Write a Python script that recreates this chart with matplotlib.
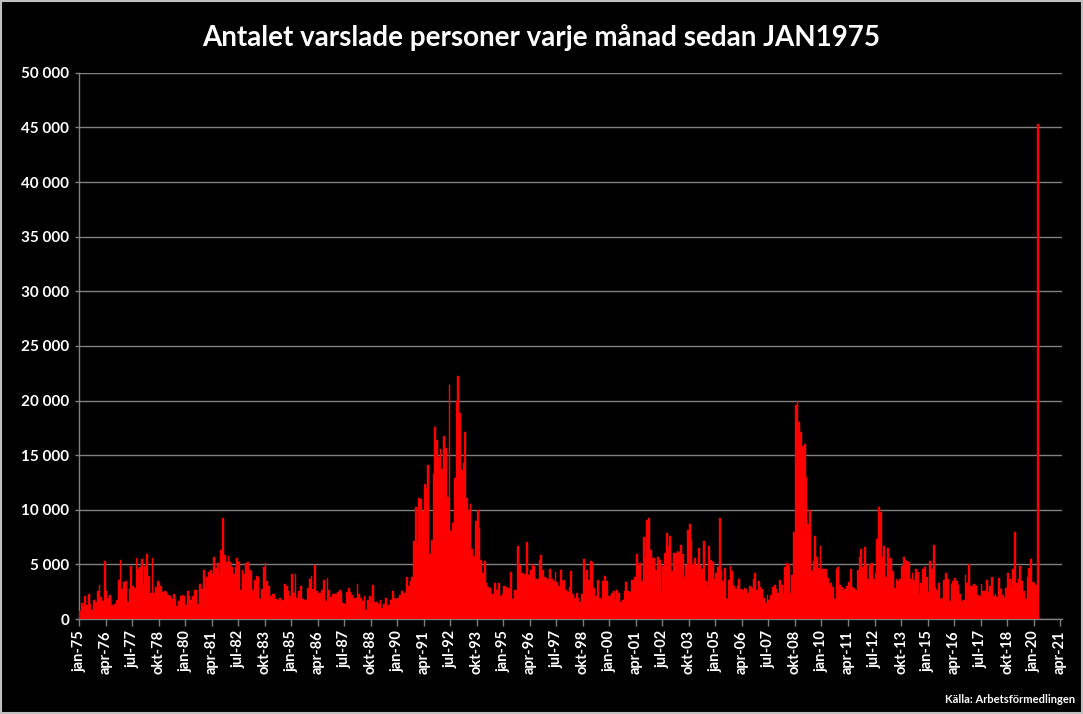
import numpy as np
import matplotlib
matplotlib.use("Agg")
import matplotlib.pyplot as plt
from matplotlib.patches import Rectangle

# Monthly number of notified persons (varsel), Jan 1975 - Mar 2020
v1970s = [
    740, 1500, 1200, 2100, 1300, 2300, 1350, 860, 1700, 1600, 2600, 3100,      # 1975
    2000, 1650, 5300, 2600, 1900, 2200, 1260, 1070, 1400, 1700, 3550, 5400,    # 1976
    2750, 3400, 3470, 1560, 2730, 4850, 3070, 2880, 5580, 4570, 4720, 5460,    # 1977
    3220, 4850, 5980, 3930, 2420, 5580, 2360, 2910, 3470, 3300, 3070, 2480,    # 1978
    2580, 2450, 2240, 2150, 1810, 2270, 1840, 1200, 1660, 2090, 2180, 2150,    # 1979
]
v1980s = [
    1260, 2550, 2150, 1720, 2150, 2640, 2700, 1350, 3250, 2730, 4480, 2820,    # 1980
    3830, 4290, 4480, 4110, 5640, 4630, 5090, 4230, 6320, 9230, 5860, 5180,    # 1981
    5770, 5180, 4780, 4140, 4780, 5610, 5180, 2640, 4480, 4110, 5150, 5180,    # 1982
    4480, 4390, 2640, 3560, 3930, 3830, 1810, 2730, 4720, 5090, 3500, 3000,    # 1983
    2090, 2270, 2270, 1840, 1720, 1960, 1600, 1720, 3190, 3000, 2580, 2120,    # 1984
    4110, 2390, 4110, 1900, 2550, 3000, 1840, 1780, 1720, 2820, 3620, 3930,    # 1985
    2730, 4940, 2550, 2390, 2390, 2700, 3560, 1660, 3740, 2640, 1990, 2270,    # 1986
    2270, 2330, 2510, 2640, 2450, 1440, 1380, 2450, 2820, 2510, 2180, 1900,    # 1987
    1900, 3190, 2270, 1900, 1660, 2090, 800, 1720, 2090, 1440, 3100, 1530,     # 1988
    1530, 1410, 1720, 1040, 1410, 1900, 1230, 1290, 1720, 2550, 1900, 1870,    # 1989
]
v1990s = [
    1900, 2180, 2550, 2330, 2390, 3830, 3010, 3500, 3830, 7150, 10270, 6900,           # 1990
    11100, 10980, 9870, 12390, 12020, 14140, 5980, 7240, 13310, 17540, 16350, 14810,   # 1991
    15520, 13770, 16710, 15700, 11190, 21440, 8070, 8770, 12880, 20000, 22240, 18860,  # 1992
    13620, 14320, 17110, 11040, 10000, 10550, 6410, 5800, 8990, 10000, 8310, 5400,     # 1993
    4230, 5310, 3310, 2940, 2880, 2270, 2270, 3280, 2640, 3280, 2090, 2270,            # 1994
    3000, 2910, 2880, 2790, 4290, 1810, 2640, 2640, 6690, 4940, 4200, 4110,            # 1995
    4110, 7050, 4020, 4480, 5030, 4850, 3650, 3650, 5400, 5860, 4480, 3830,            # 1996
    3800, 3650, 4570, 3650, 3470, 4290, 3370, 3000, 4480, 3470, 3560, 2640,            # 1997
    2450, 2910, 4390, 2300, 1900, 2360, 1900, 1530, 2270, 5490, 3650, 4480,            # 1998
    3560, 5310, 5240, 2820, 2090, 3560, 1900, 1630, 3470, 3930, 3470, 2090,            # 1999
]
v2000s = [
    2090, 2360, 2550, 1720, 2640, 2360, 1530, 1720, 2550, 3370, 2550, 2450,            # 2000
    3560, 3560, 3830, 5950, 5030, 5120, 3470, 7510, 5670, 9080, 9260, 6320,            # 2001
    5580, 5580, 4480, 5640, 5400, 2450, 4850, 6040, 7880, 6690, 7610, 4390,            # 2002
    6040, 6040, 6230, 6130, 6780, 5950, 3830, 4940, 8160, 8710, 7240, 5030,            # 2003
    5580, 4940, 6500, 4940, 4570, 7150, 3470, 2910, 6690, 5400, 5210, 3650,            # 2004
    4200, 4750, 9260, 4480, 3470, 4660, 1810, 3560, 4850, 4390, 3000, 2730,            # 2005
    3000, 3650, 2730, 2640, 2820, 2790, 2360, 3000, 2850, 3650, 4200, 2640,            # 2006
    3470, 2910, 2730, 1900, 1440, 2180, 1720, 2180, 2910, 3100, 2730, 2360,            # 2007
    3560, 3100, 2270, 4750, 5120, 5030, 2360, 3990, 7970, 19570, 19940, 18000,         # 2008
    17080, 15800, 15980, 13030, 8710, 10000, 4390, 5310, 7610, 5670, 4660, 6690,       # 2009
]
v2010s = [
    4570, 4570, 4570, 3740, 3000, 3280, 2910, 1810, 4570, 4750, 3100, 2910,            # 2010
    2610, 2730, 3000, 3370, 4570, 2910, 2850, 2640, 4480, 5670, 6410, 4750,            # 2011
    6590, 4940, 3650, 5030, 5120, 3650, 4200, 7330, 10270, 9810, 5670, 6690,           # 2012
    3830, 6500, 5490, 5580, 4390, 2820, 3650, 3500, 3650, 4850, 5670, 5400,            # 2013
    5310, 5210, 3650, 4200, 3560, 4570, 4290, 2270, 3280, 4570, 4750, 3830,            # 2014
    2450, 5310, 4570, 6780, 2910, 2640, 3280, 1810, 1900, 3560, 4200, 3620,            # 2015
    1630, 3190, 3470, 3740, 3470, 3100, 2270, 1630, 1780, 4020, 3280, 5030,            # 2016
    3000, 3000, 3190, 3000, 2180, 2090, 3190, 2610, 2610, 3590, 2510, 3040,            # 2017
    3860, 2150, 2330, 2050, 3770, 2790, 2240, 1960, 2880, 4230, 3680, 2940,            # 2018
    4600, 8000, 3310, 3680, 4880, 3500, 2610, 1870, 3860, 4690, 5520, 3400,            # 2019
]
v2020 = [3310, 3130, 45360]

tick_labels = [
    "jan-75", "apr-76", "jul-77", "okt-78", "jan-80", "apr-81", "jul-82", "okt-83",
    "jan-85", "apr-86", "jul-87", "okt-88", "jan-90", "apr-91", "jul-92", "okt-93",
    "jan-95", "apr-96", "jul-97", "okt-98", "jan-00", "apr-01", "jul-02", "okt-03",
    "jan-05", "apr-06", "jul-07", "okt-08", "jan-10", "apr-11", "jul-12", "okt-13",
    "jan-15", "apr-16", "jul-17", "okt-18", "jan-20", "apr-21",
]

values = np.array(v1970s + v1980s + v1990s + v2000s + v2010s + v2020)
months = np.arange(len(values))

plt.rcParams["font.family"] = ["Lato", "DejaVu Sans"]
plt.rcParams["font.weight"] = "bold"

fig = plt.figure(figsize=(10.83, 7.14), dpi=100, facecolor="black")
ax = fig.add_axes([0.073, 0.133, 0.9075, 0.765], facecolor="black")

ax.bar(months, values, width=1.0, align="edge", color="#ff0000",
       edgecolor="#ff0000", linewidth=0.3, zorder=3)

# axes
ax.set_xlim(0, 556)
ax.set_ylim(0, 50000)
ax.set_yticks(np.arange(0, 50001, 5000))
ax.set_yticklabels(["0"] + [f"{v // 1000} 000" for v in range(5000, 50001, 5000)])
ax.set_xticks(np.arange(0, 556, 15))
ax.set_xticklabels(tick_labels, rotation=90)
ax.tick_params(axis="x", colors="#808080", labelcolor="white", labelsize=10.5,
               length=5, width=1, pad=3)
ax.tick_params(axis="y", colors="#808080", labelcolor="white", labelsize=11,
               length=3, width=1, pad=4)
for lab in ax.get_xticklabels() + ax.get_yticklabels():
    lab.set_fontweight("bold")

ax.grid(axis="y", color="#808080", linewidth=1, zorder=0)
for side in ["top", "right"]:
    ax.spines[side].set_visible(False)
for side in ["left", "bottom"]:
    ax.spines[side].set_color("#808080")
    ax.spines[side].set_linewidth(1)

fig.text(0.5, 0.947, "Antalet varslade personer varje månad sedan JAN1975",
         color="white", fontsize=20, fontweight="bold", ha="center", va="center")
fig.text(0.993, 0.02, "Källa: Arbetsförmedlingen", color="white", fontsize=8,
         fontweight="bold", ha="right", va="center")

# thin chart-area frame
fig.patches.append(Rectangle((0.001, 0.001), 0.998, 0.997, transform=fig.transFigure,
                             fill=False, edgecolor="#c0c0c0", linewidth=1.5))

fig.savefig("out.png", dpi=100, facecolor="black")
